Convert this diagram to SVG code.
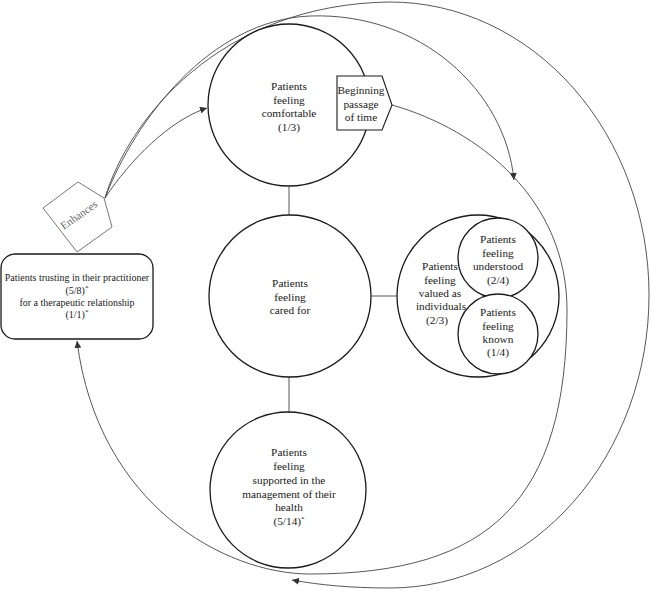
<svg xmlns="http://www.w3.org/2000/svg" width="650" height="591" viewBox="0 0 650 591">
<defs>
<marker id="arr" viewBox="0 0 10 10" refX="10" refY="5" markerWidth="7" markerHeight="7" markerUnits="userSpaceOnUse" orient="auto">
<path d="M0,0 L10,5 L0,10 z" fill="#333"/>
</marker>
<style>
.node{fill:#fff;stroke:#1a1a1a;stroke-width:1.3}
.conn{fill:none;stroke:#444;stroke-width:0.9}
.t{font-family:"Liberation Serif","Times New Roman",serif;font-size:11.3px;fill:#1a1a1a;text-anchor:middle}
.s{font-family:"Liberation Serif","Times New Roman",serif;font-size:10px;fill:#1a1a1a;text-anchor:middle}
.sup{font-size:7px}
</style>
</defs>
<rect width="650" height="591" fill="#fff"/>

<g id="connectors">
<path class="conn" d="M105,198 C128,120 220,4 390,2 A259,293 0 0 1 390,588 C350,588 320,585 292,580" marker-end="url(#arr)"/>
<path class="conn" d="M105,198 C135,120 210,20 310,16 C420,12 505,90 514,180" marker-end="url(#arr)"/>
<path class="conn" d="M105,198 C130,160 170,120 207,108" marker-end="url(#arr)"/>
<path class="conn" d="M392,105 C480,130 567,200 567,310 C567,500 490,574 310,574 C225,574 98,505 77,341" marker-end="url(#arr)"/>
<line class="conn" x1="289" y1="187" x2="289" y2="215" stroke="#1a1a1a"/>
<line class="conn" x1="289" y1="377" x2="289" y2="413" stroke="#1a1a1a"/>
<line class="conn" x1="371" y1="296" x2="397" y2="296" stroke="#1a1a1a"/>
</g>

<g id="comfortable">
<circle class="node" cx="289" cy="105" r="81"/>
<text class="t" x="289" y="90">Patients</text>
<text class="t" x="289" y="103.5">feeling</text>
<text class="t" x="289" y="117">comfortable</text>
<text class="t" x="289" y="131">(1/3)</text>
</g>

<g id="passage">
<polygon points="337,76 382,76 392,105 382,130 337,130" fill="#fff" stroke="#1a1a1a" stroke-width="1.1"/>
<text class="t" x="361" y="94">Beginning</text>
<text class="t" x="361" y="107.5">passage</text>
<text class="t" x="361" y="121">of time</text>
</g>

<g id="cared">
<circle class="node" cx="290" cy="296" r="81"/>
<text class="t" x="290" y="287">Patients</text>
<text class="t" x="290" y="300.5">feeling</text>
<text class="t" x="290" y="314">cared for</text>
</g>

<g id="supported">
<circle class="node" cx="288" cy="490" r="78"/>
<text class="t" x="289" y="456">Patients</text>
<text class="t" x="289" y="470">feeling</text>
<text class="t" x="289" y="484">supported in the</text>
<text class="t" x="289" y="497.5">management of their</text>
<text class="t" x="289" y="511">health</text>
<text class="t" x="289" y="524.5">(5/14)<tspan class="sup" baseline-shift="super">*</tspan></text>
</g>

<g id="valued">
<circle class="node" cx="478" cy="296" r="81"/>
<text class="t" x="440" y="270">Patients</text>
<text class="t" x="440" y="283.5">feeling</text>
<text class="t" x="440" y="297">valued as</text>
<text class="t" x="441" y="310">individuals</text>
<text class="t" x="437" y="323.5">(2/3)</text>
</g>

<g id="understood">
<circle class="node" cx="498" cy="258" r="40"/>
<text class="t" x="498" y="243">Patients</text>
<text class="t" x="498" y="256.5">feeling</text>
<text class="t" x="498" y="270">understood</text>
<text class="t" x="498" y="283.5">(2/4)</text>
</g>

<g id="known">
<circle class="node" cx="498" cy="334" r="40"/>
<text class="t" x="498" y="316">Patients</text>
<text class="t" x="498" y="329.5">feeling</text>
<text class="t" x="498" y="343">known</text>
<text class="t" x="498" y="356">(1/4)</text>
</g>

<g id="enhances">
<polygon points="43,208 78,182 104,198 112,227 77,252" fill="#fff" stroke="#777" stroke-width="1"/>
<text class="s" x="0" y="0" style="fill:#666;font-size:11px" transform="translate(81,218) rotate(-35)">Enhances</text>
</g>

<g id="trusting">
<rect class="node" x="1" y="254" width="152" height="85" rx="14"/>
<text class="s" x="77" y="281">Patients trusting in their practitioner</text>
<text class="s" x="77" y="294">(5/8)<tspan class="sup" baseline-shift="super">*</tspan></text>
<text class="s" x="77" y="306">for a therapeutic relationship</text>
<text class="s" x="77" y="318">(1/1)<tspan class="sup" baseline-shift="super">*</tspan></text>
</g>
</svg>
